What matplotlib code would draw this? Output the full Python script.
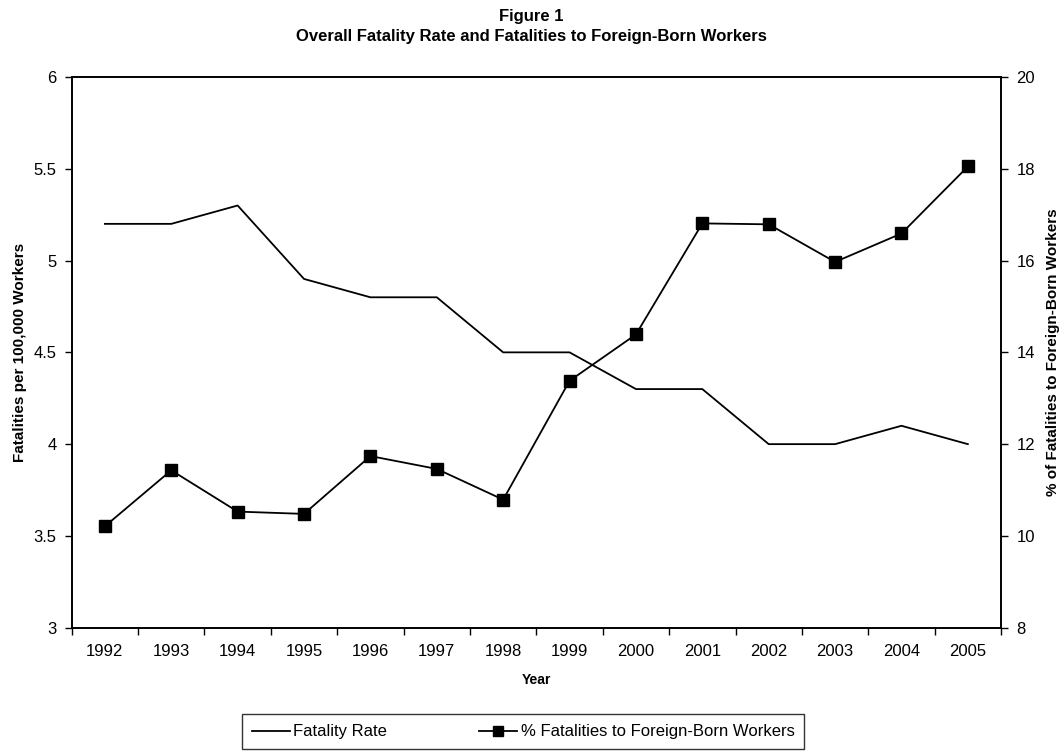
import matplotlib
matplotlib.use('Agg')
import matplotlib.pyplot as plt
from matplotlib import font_manager
import numpy as np

# values
years = ['1992', '1993', '1994', '1995', '1996', '1997', '1998',
         '1999', '2000', '2001', '2002', '2003', '2004', '2005']
fatality_rate = [5.2, 5.2, 5.3, 4.9, 4.8, 4.8, 4.5, 4.5, 4.3, 4.3, 4.0, 4.0, 4.1, 4.0]
pct_foreign = [10.21, 11.43, 10.53, 10.48, 11.74, 11.46, 10.79,
               13.38, 14.39, 16.81, 16.79, 15.97, 16.59, 18.05]

plt.rcParams['font.family'] = ['Liberation Sans', 'DejaVu Sans']

# the axis titles in the original are a condensed bold face
names = {f.name for f in font_manager.fontManager.ttflist}
if 'Liberation Sans Narrow' in names:
    label_font = dict(family=['Liberation Sans Narrow', 'Liberation Sans'], fontsize=13, fontweight='bold')
else:
    label_font = dict(family=['Liberation Sans', 'DejaVu Sans'], fontsize=11, fontweight='bold')

fig = plt.figure(figsize=(10.62, 7.55), dpi=100)
ax = fig.add_axes([0.0675, 0.1686, 0.8751, 0.7294])
ax2 = ax.twinx()

x = np.arange(len(years))
l1, = ax.plot(x, fatality_rate, color='black', lw=1.3)
l2, = ax2.plot(x, pct_foreign, color='black', lw=1.3, marker='s', ms=8)

ax.set_xlim(-0.5, len(years) - 0.5)
ax.set_ylim(3, 6)
ax.set_yticks(np.arange(3, 6.01, 0.5))
ax.set_yticklabels(['3', '3.5', '4', '4.5', '5', '5.5', '6'])
ax2.set_ylim(8, 20)
ax2.set_yticks(np.arange(8, 21, 2))

# category boundaries get the tick marks, labels sit in between
ax.set_xticks(np.arange(-0.5, len(years), 1))
ax.set_xticklabels([])
ax.set_xticks(x, minor=True)
ax.set_xticklabels(years, minor=True)
ax.tick_params(axis='x', which='major', direction='out', length=5, width=1)
ax.tick_params(axis='x', which='minor', length=0, pad=12, labelsize=12)
ax.tick_params(axis='y', direction='out', length=5, width=1, labelsize=12, pad=6)
ax2.tick_params(axis='y', direction='out', length=5, width=1, labelsize=12, pad=6)

for a in (ax, ax2):
    for s in a.spines.values():
        s.set_linewidth(1.2)

ax.set_xlabel('Year', fontsize=10, fontweight='bold', labelpad=10)
ax.set_ylabel('Fatalities per 100,000 Workers', **label_font)
ax2.set_ylabel('% of Fatalities to Foreign-Born Workers', rotation=90, **label_font)
ax.yaxis.set_label_coords(-0.048, 0.5)
ax2.yaxis.set_label_coords(1.0484, 0.5)

fig.text(0.5, 0.978, 'Figure 1', ha='center', va='center', fontsize=12, fontweight='bold')
fig.text(0.5, 0.952, 'Overall Fatality Rate and Fatalities to Foreign-Born Workers',
         ha='center', va='center', fontsize=12, fontweight='bold')

leg = fig.legend([l1, l2], ['Fatality Rate', '% Fatalities to Foreign-Born Workers'],
                 loc='center', bbox_to_anchor=(0.4925, 0.0305), ncol=2, fontsize=12,
                 frameon=True, fancybox=False, edgecolor='black', borderpad=0.6,
                 handlelength=2.3, handletextpad=0.2, columnspacing=5.5, markerscale=0.9)
leg.get_frame().set_linewidth(1.0)

fig.savefig('out.png', dpi=100)
